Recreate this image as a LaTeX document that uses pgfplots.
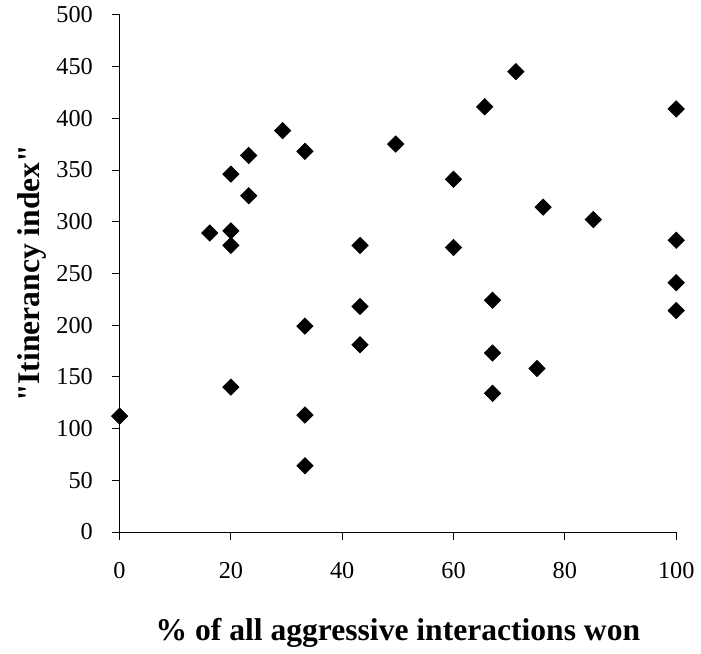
\documentclass[border=0pt]{standalone}
\usepackage{pgfplots}
\pgfplotsset{compat=1.18}
\usepackage{fontspec}
\setmainfont{Liberation Serif}[Ligatures=TeXOff]
\begin{document}
\begin{tikzpicture}
\begin{axis}[
scale only axis,
width=282pt,
height=262pt,
xmin=0, xmax=100,
ymin=0, ymax=500,
axis x line=bottom,
axis y line=left,
axis line style={-, thin},
xtick={0,20,...,100},
ytick={0,50,...,500},
tick align=outside,
major tick length=4pt,
tick style={thin, black},
/pgf/number format/assume math mode=true,
tick label style={font=\fontsize{12.3}{14}\selectfont},
xticklabel style={yshift=-8pt},
yticklabel style={xshift=-6pt},
xlabel={\textbf{\% of all aggressive interactions won}},
ylabel={\textbf{"Itinerancy index"}},
label style={font=\fontsize{16}{19}\selectfont},
xlabel style={yshift=-13pt},
ylabel style={inner ysep=9pt, yshift=-7.5pt},
clip=false,
]
\addplot[only marks, mark=square*, mark size=2.9pt, mark options={rotate=45, fill=black, draw=black}]
coordinates {
(0,112)(16.2,289)(20,291)(20,277)(20,346)(20,140)(23.2,364)(23.2,325)
(29.3,388)(33.3,368)(33.3,199)(33.3,113)(33.3,64)(43.2,277)(43.2,218)
(43.2,181)(49.6,375)(60,341)(60,275)(65.6,411)(67,224)(67,173)(67,134)
(71.2,445)(75,158)(76.1,314)(85.1,302)(100,409)(100,282)(100,241)(100,214)
};
\end{axis}
\end{tikzpicture}
\end{document}
